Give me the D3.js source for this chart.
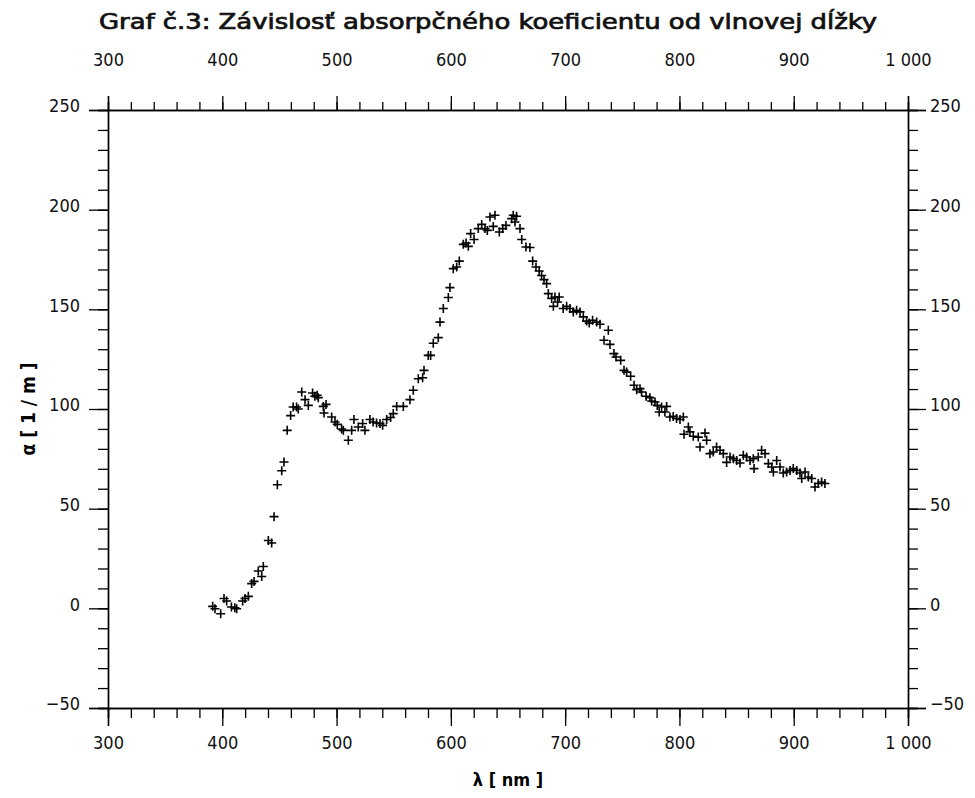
<!DOCTYPE html>
<html>
<head>
<meta charset="utf-8">
<script src="https://cdn.jsdelivr.net/npm/d3@7"></script>
<style>
  body { margin: 0; background: #fff; }
  svg { display: block; }
</style>
</head>
<body>
<svg id="chart" width="975" height="798"></svg>
<script>
// wavelength [nm] and absorption coefficient [1/m]
var lambda = [391.6, 393.6, 398.6, 401.5, 403.8, 408.0, 411.0, 412.6, 417.8, 419.9,
  422.8, 425.7, 427.8, 431.5, 434.5, 435.9, 440.3, 443.2, 445.3, 448.2,
  452.0, 454.0, 456.8, 459.8, 462.0, 465.0, 466.5, 469.5, 472.4, 475.3,
  479.0, 481.0, 483.0, 484.0, 488.4, 489.0, 490.8, 495.7, 498.6, 500.6,
  504.4, 505.9, 510.3, 513.2, 515.2, 519.0, 522.8, 524.8, 529.2, 532.0,
  535.0, 538.0, 540.3, 543.8, 547.3, 549.6, 552.6, 558.4, 564.2, 567.1,
  571.5, 575.3, 576.5, 580.2, 582.3, 584.6, 589.0, 590.5, 593.4, 597.8,
  599.2, 602.1, 605.1, 607.4, 610.9, 613.3, 615.3, 617.3, 620.3, 624.0,
  627.0, 629.9, 631.9, 634.2, 637.1, 638.6, 642.4, 645.4, 648.2, 653.2,
  654.6, 656.1, 657.5, 660.5, 662.0, 665.7, 669.2, 671.6, 674.5, 677.3,
  679.4, 681.5, 683.8, 685.3, 688.2, 689.7, 691.1, 693.4, 694.8, 698.3,
  701.3, 704.2, 707.1, 710.0, 713.0, 715.9, 718.8, 721.1, 724.0, 727.6,
  730.5, 734.0, 737.8, 739.2, 742.7, 744.5, 748.6, 751.5, 753.8, 757.3,
  760.3, 762.6, 765.5, 766.9, 770.8, 774.2, 775.7, 778.6, 780.6, 782.3,
  784.4, 787.3, 788.8, 791.7, 794.6, 797.5, 800.5, 803.4, 804.0, 807.8,
  809.2, 812.1, 816.5, 818.0, 822.4, 823.8, 826.7, 829.6, 832.5, 835.5,
  838.4, 841.3, 844.3, 847.2, 850.1, 853.0, 855.9, 858.8, 861.8, 864.6,
  865.3, 869.0, 871.9, 874.9, 877.8, 880.8, 882.2, 885.1, 888.0, 890.9,
  893.8, 896.8, 899.6, 902.6, 905.5, 907.0, 909.9, 912.8, 915.7, 918.6,
  921.5, 924.4, 927.3];

var alpha = [1.0, -0.2, -2.7, 4.9, 3.7, 0.7, 0.3, -0.2, 3.7, 4.9,
  6.0, 12.4, 13.5, 18.7, 16.0, 21.0, 34.0, 32.8, 46.0, 62.0,
  69.0, 73.4, 89.3, 96.7, 101.0, 101.0, 100.0, 108.5, 104.7, 101.8,
  108.0, 106.4, 106.9, 105.7, 101.3, 98.0, 102.3, 96.0, 93.5, 92.3,
  90.0, 89.3, 84.3, 89.3, 94.7, 91.0, 92.7, 89.3, 94.7, 93.5,
  93.0, 92.7, 91.8, 94.7, 95.7, 97.7, 101.3, 101.3, 104.7, 109.4,
  115.2, 115.7, 119.4, 126.9, 126.9, 133.0, 135.8, 143.6, 150.4, 155.9,
  160.9, 170.4, 171.2, 174.2, 182.6, 183.3, 181.6, 188.0, 185.0, 190.5,
  192.6, 190.5, 189.6, 196.3, 191.6, 197.2, 188.8, 190.5, 192.1, 195.5,
  197.2, 193.8, 196.7, 190.5, 185.0, 181.3, 181.0, 174.2, 171.2, 169.2,
  167.0, 164.9, 162.9, 157.9, 155.4, 151.5, 156.2, 153.7, 156.2, 150.4,
  151.5, 150.4, 148.7, 149.5, 148.7, 146.2, 144.1, 143.1, 144.5, 143.6,
  142.5, 134.5, 139.5, 132.4, 127.8, 126.1, 124.4, 119.4, 118.5, 116.4,
  111.9, 109.7, 110.2, 108.5, 106.4, 105.7, 104.0, 103.5, 101.8, 98.5,
  101.0, 98.5, 101.3, 96.0, 96.3, 95.2, 94.7, 96.0, 87.3, 91.0,
  88.5, 86.3, 85.9, 80.9, 87.9, 84.3, 77.6, 78.4, 80.9, 79.3,
  77.6, 73.2, 75.9, 75.1, 74.2, 72.9, 76.8, 75.9, 74.2, 75.1,
  70.1, 75.9, 79.3, 77.6, 72.6, 70.9, 68.4, 74.2, 70.9, 67.9,
  68.4, 69.2, 70.1, 69.2, 67.9, 65.1, 68.4, 65.9, 65.1, 60.9,
  62.6, 63.4, 62.6];

var xMajor = [300, 400, 500, 600, 700, 800, 900, 1000];
var yMajor = [-50, 0, 50, 100, 150, 200, 250];

var titleText = "Graf č.3: Závislosť absorpčného koeficientu od vlnovej dĺžky";
var xTitle = "λ [ nm ]";
var yTitle = "α [ 1 / m ]";

var svg = d3.select("#chart"),
    margin = {top: 110, right: 67, bottom: 90, left: 108},
    width = +svg.attr("width") - margin.left - margin.right,
    height = +svg.attr("height") - margin.top - margin.bottom,
    g = svg.append("g").attr("transform", "translate(" + margin.left + "," + margin.top + ")");

var x = d3.scaleLinear().domain([300, 1000]).range([0, width]);
var y = d3.scaleLinear().domain([-50, 250]).range([height, 0]);

var fmt = function(d) {
  var s = d3.format(",")(Math.abs(d)).replace(",", " ");
  return d < 0 ? "\u2212" + s : s;
};

var xMinor = d3.range(300, 1001, 20);
var yMinor = d3.range(-50, 251, 10);

function styleAxis(a) {
  a.attr("font-size", null).attr("font-family", null);
  a.select(".domain").attr("stroke", "#000").attr("stroke-width", 1.4);
  a.selectAll(".tick line").attr("stroke", "#000").attr("stroke-width", 1.3);
  a.selectAll(".tick text").attr("fill", "#111")
      .style("font-family", "'DejaVu Sans Condensed', 'DejaVu Sans'")
      .style("font-size", "18px");
}

// minor ticks
g.append("g").attr("transform", "translate(0," + height + ")")
    .call(d3.axisBottom(x).tickValues(xMinor).tickSize(10).tickFormat(""))
    .call(styleAxis);
g.append("g")
    .call(d3.axisTop(x).tickValues(xMinor).tickSize(8).tickFormat(""))
    .call(styleAxis);
g.append("g")
    .call(d3.axisLeft(y).tickValues(yMinor).tickSize(10).tickFormat(""))
    .call(styleAxis);
g.append("g").attr("transform", "translate(" + width + ",0)")
    .call(d3.axisRight(y).tickValues(yMinor).tickSize(10).tickFormat(""))
    .call(styleAxis);

// major ticks + labels
g.append("g").attr("transform", "translate(0," + height + ")")
    .call(d3.axisBottom(x).tickValues(xMajor).tickSize(18).tickPadding(10).tickFormat(fmt))
    .call(styleAxis);
g.append("g")
    .call(d3.axisTop(x).tickValues(xMajor).tickSize(14).tickPadding(30).tickFormat(fmt))
    .call(styleAxis);
g.append("g")
    .call(d3.axisLeft(y).tickValues(yMajor).tickSize(19).tickPadding(9).tickFormat(fmt))
    .call(styleAxis)
    .selectAll(".tick text").attr("dy", "0.1em");
g.append("g").attr("transform", "translate(" + width + ",0)")
    .call(d3.axisRight(y).tickValues(yMajor).tickSize(18).tickPadding(4).tickFormat(fmt))
    .call(styleAxis)
    .selectAll(".tick text").attr("dy", "0.1em");

// data as + markers
var pts = lambda.map(function(l, i) { return {l: l, a: alpha[i]}; });
g.selectAll(".pt")
    .data(pts)
  .enter().append("path")
    .attr("class", "pt")
    .attr("transform", function(d) { return "translate(" + x(d.l) + "," + y(d.a) + ")"; })
    .attr("d", "M-4.5,0H4.5M0,-4.5V4.5")
    .attr("stroke", "#000")
    .attr("stroke-width", 1.6)
    .attr("fill", "none");

// titles
svg.append("text")
    .attr("x", 488).attr("y", 29)
    .attr("text-anchor", "middle")
    .attr("textLength", 778).attr("lengthAdjust", "spacingAndGlyphs")
    .attr("font-family", "DejaVu Sans Condensed").attr("font-size", 22)
    .attr("fill", "#111").attr("stroke", "#111").attr("stroke-width", 0.7)
    .text(titleText);

svg.append("text")
    .attr("x", margin.left + width / 2).attr("y", 786)
    .attr("text-anchor", "middle")
    .attr("font-family", "DejaVu Sans Condensed").attr("font-size", 18).attr("font-weight", "bold")
    .text(xTitle);

svg.append("text")
    .attr("transform", "translate(35," + (margin.top + height / 2) + ") rotate(-90)")
    .attr("text-anchor", "middle")
    .attr("font-family", "DejaVu Sans Condensed").attr("font-size", 19).attr("font-weight", "bold")
    .text(yTitle);
</script>
</body>
</html>
